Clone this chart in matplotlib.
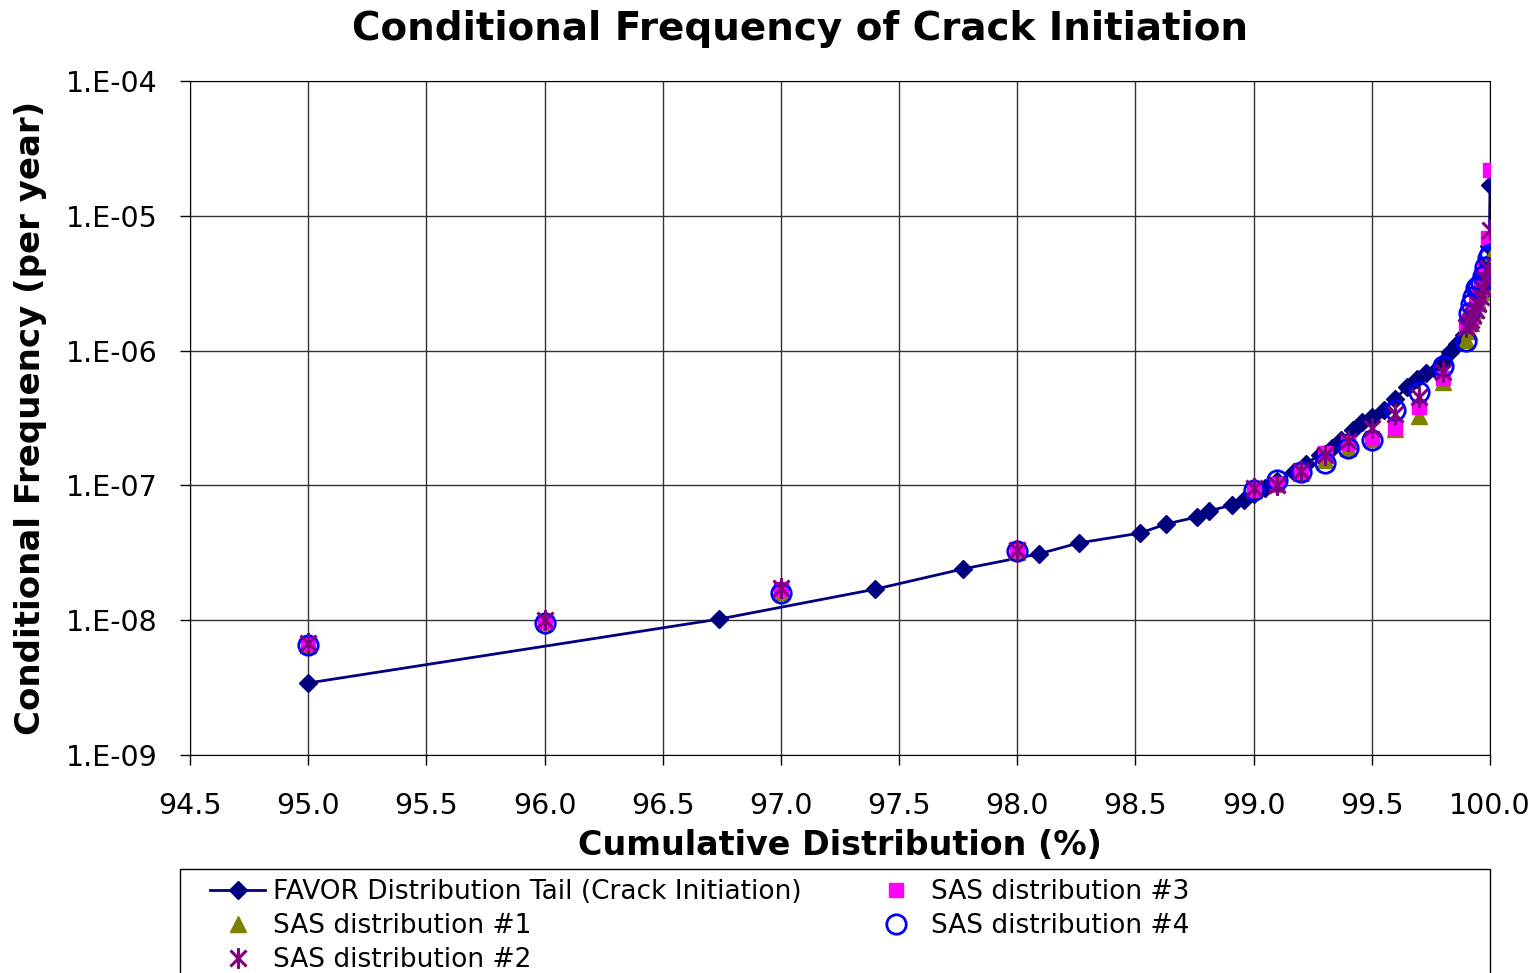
from matplotlib import pyplot as plt
from matplotlib.path import Path
from matplotlib.patches import Rectangle
from matplotlib.ticker import FuncFormatter, FixedLocator
import numpy as np

# FAVOR distribution tail (crack initiation)
favor_x = [95.0, 96.74, 97.40, 97.77, 98.09, 98.26, 98.52, 98.63, 98.76, 98.81,
           98.91, 98.96, 99.0, 99.05, 99.1, 99.17, 99.22, 99.28, 99.33, 99.37,
           99.42, 99.46, 99.5, 99.55, 99.6, 99.65, 99.69, 99.73, 99.77, 99.8,
           99.83, 99.86, 99.89, 99.92, 99.94, 99.96, 99.98, 99.99, 99.997, 100.0]
favor_y = [3.42e-9, 1.02e-8, 1.70e-8, 2.40e-8, 3.1e-8, 3.74e-8, 4.43e-8, 5.17e-8, 5.83e-8, 6.46e-8,
           7.16e-8, 7.8e-8, 8.6e-8, 9.5e-8, 1.07e-7, 1.26e-7, 1.45e-7, 1.68e-7, 1.9e-7, 2.18e-7,
           2.58e-7, 2.95e-7, 3.2e-7, 3.6e-7, 4.4e-7, 5.4e-7, 6.2e-7, 6.8e-7, 7.2e-7, 8.2e-7,
           9.8e-7, 1.12e-6, 1.3e-6, 1.7e-6, 2.1e-6, 2.6e-6, 3.3e-6, 4.5e-6, 6.0e-6, 1.69e-5]

# SAS distributions
sas_x = [95, 96, 97, 98, 99, 99.1, 99.2, 99.3, 99.4, 99.5, 99.6, 99.7, 99.8, 99.9,
         99.91, 99.92, 99.93, 99.94, 99.95, 99.96, 99.97, 99.98, 99.99, 100.0]
sas1 = [6.5e-9, 9.7e-9, 1.62e-8, 3.2e-8, 9.2e-8, 1.02e-7, 1.24e-7, 1.55e-7, 1.9e-7, 2.2e-7,
        2.6e-7, 3.3e-7, 5.8e-7, 1.2e-6, 1.4e-6, 1.6e-6, 1.8e-6, 2.0e-6, 2.3e-6, 2.7e-6,
        3.1e-6, 3.6e-6, 4.2e-6, 4.9e-6]
sas2 = [6.8e-9, 1.0e-8, 1.72e-8, 3.3e-8, 9.5e-8, 1.0e-7, 1.27e-7, 1.68e-7, 2.15e-7, 2.65e-7,
        3.4e-7, 4.5e-7, 6.9e-7, 1.5e-6, 1.6e-6, 1.7e-6, 1.85e-6, 2.0e-6, 2.2e-6, 2.5e-6,
        2.9e-6, 3.4e-6, 4.1e-6, 7.9e-6]
sas3 = [6.7e-9, 9.9e-9, 1.7e-8, 3.3e-8, 9.4e-8, 1.02e-7, 1.27e-7, 1.75e-7, 2.05e-7, 2.25e-7,
        2.67e-7, 3.8e-7, 6.3e-7, 1.55e-6, 1.65e-6, 1.8e-6, 2.0e-6, 2.2e-6, 2.5e-6, 2.9e-6,
        3.3e-6, 3.9e-6, 6.8e-6, 2.2e-5]
sas4 = [6.5e-9, 9.6e-9, 1.6e-8, 3.25e-8, 9.3e-8, 1.1e-7, 1.25e-7, 1.47e-7, 1.9e-7, 2.17e-7,
        3.6e-7, 4.9e-7, 7.7e-7, 1.18e-6, 1.9e-6, 2.2e-6, 2.5e-6, 2.9e-6, 3.0e-6, 3.2e-6,
        3.6e-6, 4.2e-6, 4.9e-6, 5.2e-6]

xticks = [94.5, 95.0, 95.5, 96.0, 96.5, 97.0, 97.5, 98.0, 98.5, 99.0, 99.5, 100.0]
yticks = [1e-9, 1e-8, 1e-7, 1e-6, 1e-5, 1e-4]

# excel style star: x with a vertical bar
star = Path([(-1, -1), (1, 1), (-1, 1), (1, -1), (0, -1.3), (0, 1.3)],
            [Path.MOVETO, Path.LINETO, Path.MOVETO, Path.LINETO, Path.MOVETO, Path.LINETO])

plt.rcParams['font.family'] = 'DejaVu Sans'

fig = plt.figure(figsize=(15.39, 9.73), dpi=100)
ax = fig.add_axes([190/1539, 1-755/973, 1300/1539, 674/973])

ax.plot(favor_x, favor_y, color='#000080', lw=2, marker='D', ms=9,
        label='FAVOR Distribution Tail (Crack Initiation)', zorder=3)
ax.plot(sas_x, sas1, ls='none', marker='^', ms=12, color='#808000',
        label='SAS distribution #1', zorder=4)
ax.plot(sas_x, sas3, ls='none', marker='s', ms=10, color='#FF00FF',
        label='SAS distribution #3', zorder=5)
ax.plot(sas_x, sas4, ls='none', marker='o', ms=14, mfc='none', mec='#0000FF', mew=2,
        label='SAS distribution #4', zorder=6)
ax.plot(sas_x, sas2, ls='none', marker=star, ms=15, mec='#800080', mew=2.2,
        label='SAS distribution #2', zorder=7)

ax.set_yscale('log')
ax.set_xlim(94.5, 100.0)
ax.set_ylim(1e-9, 1e-4)
ax.xaxis.set_major_locator(FixedLocator(xticks))
ax.yaxis.set_major_locator(FixedLocator(yticks))
ax.yaxis.set_minor_locator(FixedLocator([]))
ax.xaxis.set_major_formatter(FuncFormatter(lambda v, p: f'{v:.1f}'))
ax.yaxis.set_major_formatter(FuncFormatter(lambda v, p: f'1.E-{-int(round(np.log10(v))):02d}'))
ax.tick_params(labelsize=20.5, direction='out', length=7, width=1)
ax.tick_params(axis='y', pad=16)
ax.tick_params(axis='x', pad=20)
ax.grid(True, color='#333333', lw=1)
for s in ax.spines.values():
    s.set_color('black')

ax.set_xlabel('Cumulative Distribution (%)', fontsize=24, fontweight='bold', labelpad=6)
ax.set_ylabel('Conditional Frequency (per year)', fontsize=24.5, fontweight='bold', labelpad=14)
fig.text(800/1539, 1-29/973, 'Conditional Frequency of Crack Initiation',
         ha='center', va='center', fontsize=28, fontweight='bold')

handles, labels = ax.get_legend_handles_labels()
order = [0, 1, 4, 2, 3]
leg = fig.legend([handles[i] for i in order], [labels[i] for i in order],
                 loc='upper left', bbox_to_anchor=(210/1539, 1-879/973),
                 ncol=2, fontsize=19, frameon=False, handlelength=2.1,
                 labelspacing=0.3, borderpad=0, borderaxespad=0,
                 handletextpad=0.3, columnspacing=2.5)
fig.add_artist(Rectangle((180/1539, 1-990/973), 1310/1539, (990-869)/973,
                         transform=fig.transFigure, fill=False, ec='black', lw=1))

fig.savefig('out.png', dpi=100)
